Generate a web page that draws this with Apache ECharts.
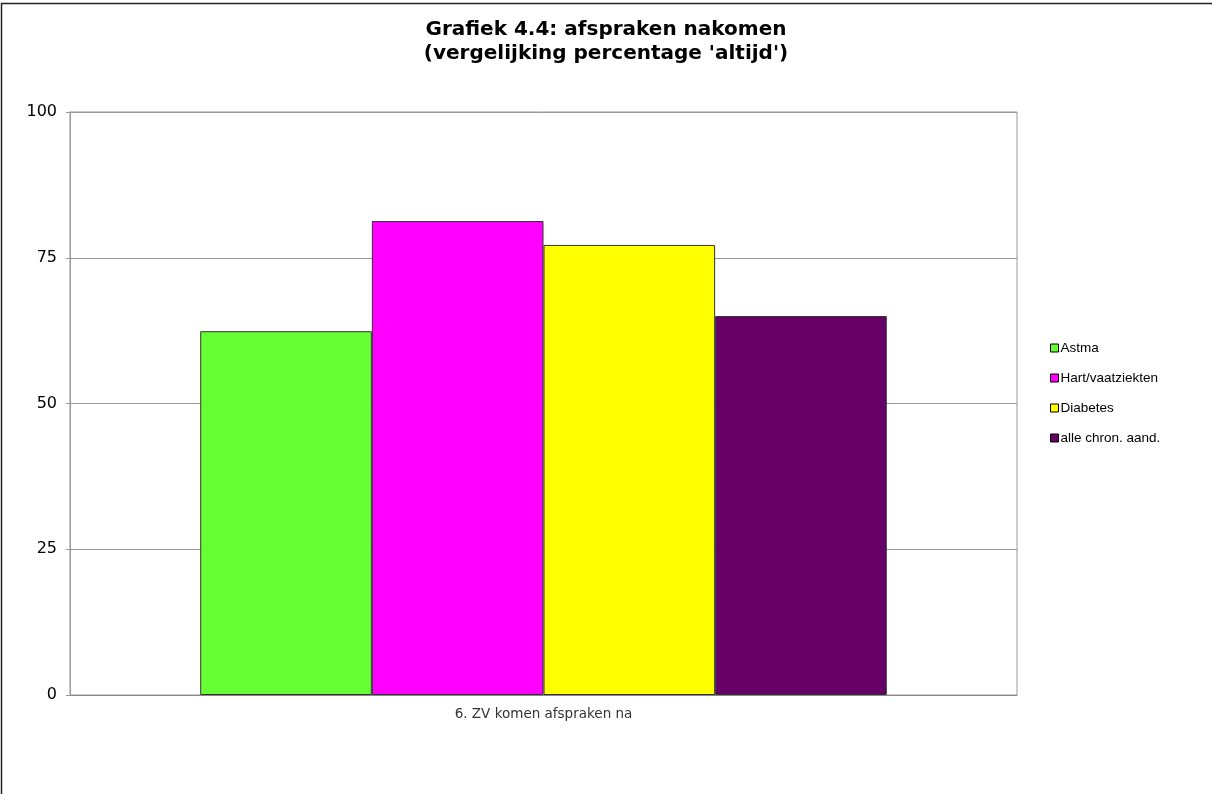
<!DOCTYPE html>
<html>
<head>
<meta charset="utf-8">
<script src="https://cdn.jsdelivr.net/npm/echarts@6/dist/echarts.min.js"></script>
<style>html,body{margin:0;padding:0;background:#fff}#c{width:1212px;height:794px}</style>
</head>
<body>
<div id="c"></div>
<script>
var categories = ['6. ZV komen afspraken na'];
var seriesNames = ['Astma', 'Hart/vaatziekten', 'Diabetes', 'alle chron. aand.'];
var astma = [62.4];
var hart = [81.3];
var diabetes = [77.2];
var alle = [65.0];
var yTicks = [0, 25, 50, 75, 100];

var colors = ['#66FF33', '#FF00FF', '#FFFF00', '#660066'];
var values = [astma, hart, diabetes, alle];

var chart = echarts.init(document.getElementById('c'));
chart.setOption({
  animation: false,
  backgroundColor: '#fff',
  title: {
    text: "Grafiek 4.4: afspraken nakomen\n(vergelijking percentage 'altijd')",
    left: 'center',
    top: 13,
    textStyle: { fontFamily: 'DejaVu Sans', fontWeight: 'bold', fontSize: 20, lineHeight: 24, color: '#000' }
  },
  graphic: [{
    type: 'rect', silent: true,
    shape: { x: 1.5, y: 3.5, width: 1400, height: 1000 },
    style: { fill: 'none', stroke: '#222', lineWidth: 1.5 }
  }],
  legend: {
    orient: 'vertical',
    left: 1050,
    top: 341,
    padding: 0,
    itemWidth: 8,
    itemHeight: 8,
    itemGap: 16,
    icon: 'rect',
    textStyle: { fontFamily: 'Liberation Sans', fontSize: 13.5, color: '#000', padding: [0, 0, 0, -3] },
    data: seriesNames,
    itemStyle: { borderColor: '#000', borderWidth: 1 }
  },
  grid: {
    left: 70, right: 195, top: 112, bottom: 99,
    show: true, borderColor: '#999', borderWidth: 1
  },
  xAxis: {
    type: 'category',
    data: categories,
    axisLine: { lineStyle: { color: '#888' } },
    axisTick: { show: false },
    axisLabel: { fontFamily: 'DejaVu Sans', fontSize: 13.5, color: '#333', margin: 12 }
  },
  yAxis: {
    type: 'value',
    min: yTicks[0], max: yTicks[yTicks.length - 1], interval: 25,
    axisLine: { show: true, lineStyle: { color: '#999' } },
    axisTick: { show: true, length: 4, lineStyle: { color: '#999' } },
    axisLabel: { fontFamily: 'DejaVu Sans', fontSize: 16, color: '#000', margin: 13 },
    splitLine: { lineStyle: { color: '#999' } }
  },
  series: seriesNames.map(function (n, i) {
    return {
      name: n, type: 'bar', data: values[i],
      barGap: '0%', barCategoryGap: '27.5%',
      itemStyle: { color: colors[i], borderColor: '#333', borderWidth: 1 }
    };
  })
});
</script>
</body>
</html>
